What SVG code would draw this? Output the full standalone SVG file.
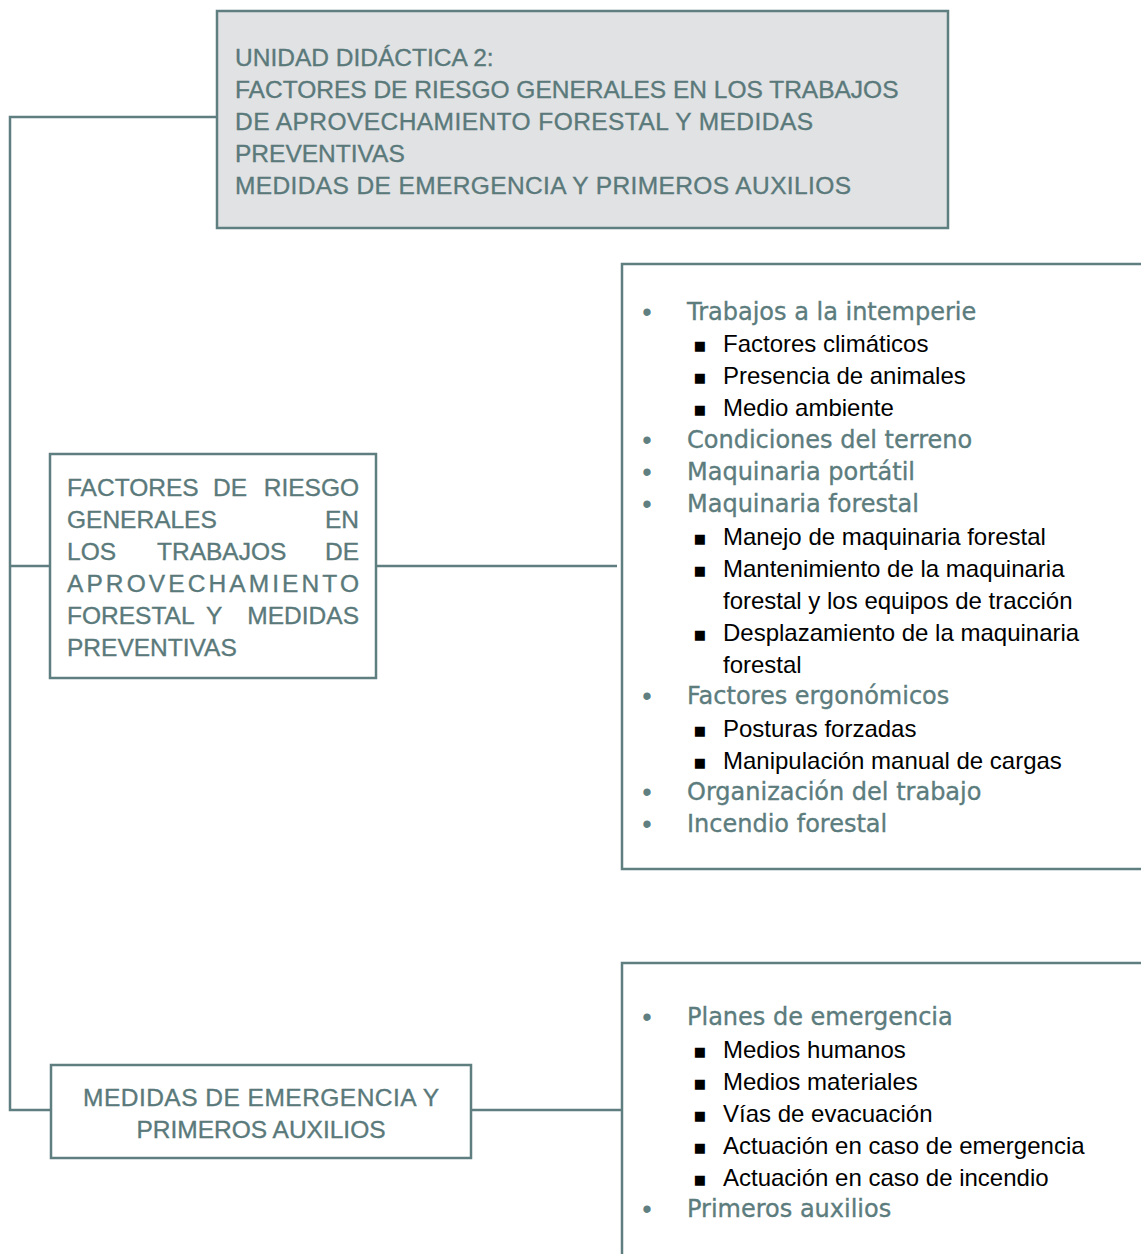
<svg xmlns="http://www.w3.org/2000/svg" width="1141" height="1254" viewBox="0 0 1141 1254">
<style>
.box{fill:#ffffff;stroke:#5f7e7f;stroke-width:2.5}
.gray{fill:#e1e2e4}
.conn{fill:none;stroke:#5f7e7f;stroke-width:2.5}
.cap{font-family:"Liberation Sans",Arial,sans-serif;font-size:24.5px;fill:#5a797a;stroke:#5a797a;stroke-width:0.35}
.h{font-family:"DejaVu Sans",sans-serif;font-size:24px;fill:#5c7c7d;stroke:#5c7c7d;stroke-width:0.35}
.s{font-family:"Liberation Sans",Arial,sans-serif;font-size:24px;fill:#000000}
.dot{font-family:"Liberation Sans",Arial,sans-serif;font-size:27px;fill:#5f7f80;text-anchor:middle}
.sq{font-family:"DejaVu Sans",sans-serif;font-size:13px;fill:#000000;text-anchor:middle}
</style>
<rect width="1141" height="1254" fill="#ffffff"/>
<g id="connectors">
<polyline class="conn" points="217,117 10,117 10,1110 51,1110"/>
<line class="conn" x1="10" y1="566" x2="50" y2="566"/>
<line class="conn" x1="376" y1="566" x2="617" y2="566"/>
<line class="conn" x1="471" y1="1110" x2="622" y2="1110"/>
</g>
<g id="node-unidad">
<rect class="box gray" x="217" y="11" width="731" height="217"/>
<text class="cap" x="235" y="66">UNIDAD DIDÁCTICA 2:</text>
<text class="cap" x="235" y="98">FACTORES DE RIESGO GENERALES EN LOS TRABAJOS</text>
<text class="cap" x="235" y="130" textLength="578" lengthAdjust="spacing">DE APROVECHAMIENTO FORESTAL Y MEDIDAS</text>
<text class="cap" x="235" y="162">PREVENTIVAS</text>
<text class="cap" x="235" y="194" textLength="616" lengthAdjust="spacing">MEDIDAS DE EMERGENCIA Y PRIMEROS AUXILIOS</text>
</g>
<g id="node-factores">
<rect class="box" x="50" y="454" width="326" height="224"/>
<text class="cap" y="496"><tspan x="67">FACTORES</tspan><tspan x="213">DE</tspan><tspan x="359" text-anchor="end">RIESGO</tspan></text>
<text class="cap" y="528"><tspan x="67">GENERALES</tspan><tspan x="359" text-anchor="end">EN</tspan></text>
<text class="cap" y="560"><tspan x="67">LOS</tspan><tspan x="157">TRABAJOS</tspan><tspan x="359" text-anchor="end">DE</tspan></text>
<text class="cap" x="67" y="592" textLength="292" lengthAdjust="spacing">APROVECHAMIENTO</text>
<text class="cap" y="624"><tspan x="67">FORESTAL</tspan><tspan x="206">Y</tspan><tspan x="359" text-anchor="end">MEDIDAS</tspan></text>
<text class="cap" x="67" y="656">PREVENTIVAS</text>
</g>
<g id="node-medidas">
<rect class="box" x="51" y="1065" width="420" height="93"/>
<text class="cap" x="261" y="1106" text-anchor="middle" textLength="356" lengthAdjust="spacing">MEDIDAS DE EMERGENCIA Y</text>
<text class="cap" x="261" y="1138" text-anchor="middle">PRIMEROS AUXILIOS</text>
</g>
<g id="node-lista-riesgos">
<rect class="box" x="622" y="264" width="540" height="605"/>
<text class="dot" x="647" y="321">•</text><text class="h" x="687" y="320">Trabajos a la intemperie</text>
<text class="sq" x="700" y="350">■</text><text class="s" x="723" y="352">Factores climáticos</text>
<text class="sq" x="700" y="382">■</text><text class="s" x="723" y="384">Presencia de animales</text>
<text class="sq" x="700" y="414">■</text><text class="s" x="723" y="416">Medio ambiente</text>
<text class="dot" x="647" y="449">•</text><text class="h" x="687" y="448">Condiciones del terreno</text>
<text class="dot" x="647" y="481">•</text><text class="h" x="687" y="480">Maquinaria portátil</text>
<text class="dot" x="647" y="513">•</text><text class="h" x="687" y="512">Maquinaria forestal</text>
<text class="sq" x="700" y="543">■</text><text class="s" x="723" y="545">Manejo de maquinaria forestal</text>
<text class="sq" x="700" y="575">■</text><text class="s" x="723" y="577">Mantenimiento de la maquinaria</text>
<text class="s" x="723" y="609">forestal y los equipos de tracción</text>
<text class="sq" x="700" y="639">■</text><text class="s" x="723" y="641">Desplazamiento de la maquinaria</text>
<text class="s" x="723" y="673">forestal</text>
<text class="dot" x="647" y="705">•</text><text class="h" x="687" y="704">Factores ergonómicos</text>
<text class="sq" x="700" y="735">■</text><text class="s" x="723" y="737">Posturas forzadas</text>
<text class="sq" x="700" y="767">■</text><text class="s" x="723" y="769">Manipulación manual de cargas</text>
<text class="dot" x="647" y="801">•</text><text class="h" x="687" y="800">Organización del trabajo</text>
<text class="dot" x="647" y="833">•</text><text class="h" x="687" y="832">Incendio forestal</text>
</g>
<g id="node-lista-emergencia">
<rect class="box" x="622" y="963" width="540" height="320"/>
<text class="dot" x="647" y="1026">•</text><text class="h" x="687" y="1025">Planes de emergencia</text>
<text class="sq" x="700" y="1056">■</text><text class="s" x="723" y="1058">Medios humanos</text>
<text class="sq" x="700" y="1088">■</text><text class="s" x="723" y="1090">Medios materiales</text>
<text class="sq" x="700" y="1120">■</text><text class="s" x="723" y="1122">Vías de evacuación</text>
<text class="sq" x="700" y="1152">■</text><text class="s" x="723" y="1154">Actuación en caso de emergencia</text>
<text class="sq" x="700" y="1184">■</text><text class="s" x="723" y="1186">Actuación en caso de incendio</text>
<text class="dot" x="647" y="1218">•</text><text class="h" x="687" y="1217">Primeros auxilios</text>
</g>
</svg>
